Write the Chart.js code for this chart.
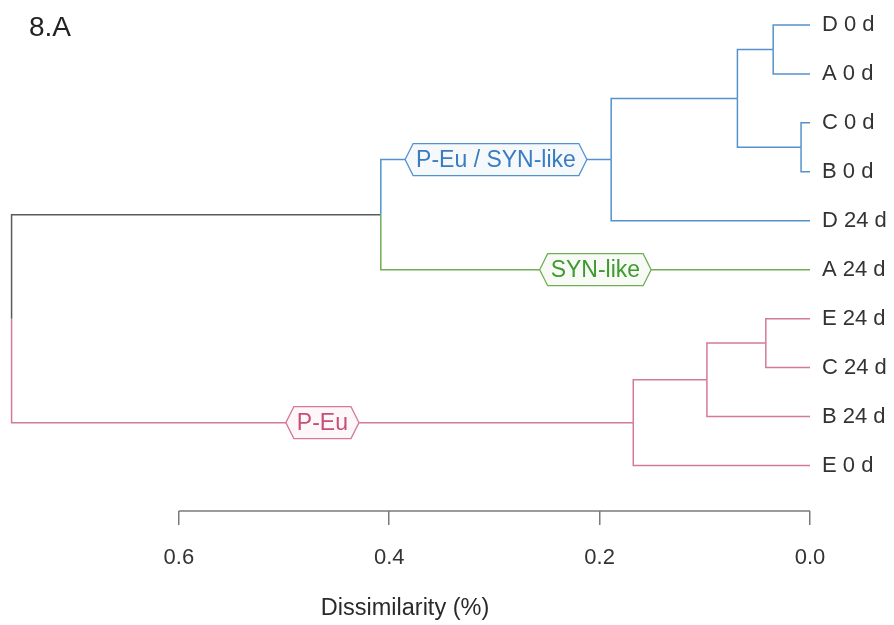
<!DOCTYPE html>
<html>
<head>
<meta charset="utf-8">
<script src="https://cdn.jsdelivr.net/npm/chart.js@4.4.1/dist/chart.umd.min.js"></script>
<style>
  html, body { margin: 0; padding: 0; background: #fff; }
  #wrap { width: 894px; height: 625px; position: relative; }
</style>
</head>
<body>
<div id="wrap"><canvas id="dendro"></canvas></div>
<script>
// leaves, top to bottom
const leafLabels = ['D 0 d', 'A 0 d', 'C 0 d', 'B 0 d', 'D 24 d', 'A 24 d', 'E 24 d', 'C 24 d', 'B 24 d', 'E 0 d'];
const leafGroups = ['blue', 'blue', 'blue', 'blue', 'blue', 'green', 'pink', 'pink', 'pink', 'pink'];

// hclust-style merge table: negative = leaf (1-based), positive = earlier merge
const mergeLeft = [-3, -1, -7, 2, 3, 5, 4, 7, 8];
const mergeRight = [-4, -2, -8, 1, -9, -10, -5, -6, 6];
const mergeHeight = [0.0085, 0.035, 0.042, 0.069, 0.098, 0.168, 0.189, 0.408, 0.759];

const xTicks = [0.6, 0.4, 0.2, 0.0];

// branch labels: node the branch leads to, and its text
const branchTargets = [7, -6, 6];
const branchTexts = ['P-Eu / SYN-like', 'SYN-like', 'P-Eu'];

const lineColors = { blue: '#5592cc', green: '#6fae55', pink: '#d57a95', mixed: '#5a5a5a' };
const textColors = { blue: '#3a7cc0', green: '#3f9a30', pink: '#c74f75' };
const FONT = 'Liberation Sans, Arial, sans-serif';

const merged = [];
function nodeInfo(id) {
  if (id < 0) return { y: -id, h: 0, group: leafGroups[-id - 1] };
  return merged[id - 1];
}
mergeLeft.forEach((l, i) => {
  const a = nodeInfo(l);
  const b = nodeInfo(mergeRight[i]);
  merged.push({ y: (a.y + b.y) / 2, h: mergeHeight[i], group: a.group === b.group ? a.group : 'mixed' });
});

// one polyline per child branch: parent vertical half + horizontal run
const edges = [];
mergeLeft.forEach((l, i) => {
  const parent = merged[i];
  [l, mergeRight[i]].forEach((c) => {
    const child = nodeInfo(c);
    edges.push({
      id: c,
      parent,
      child,
      pts: [
        { x: parent.h, y: parent.y },
        { x: parent.h, y: child.y },
        { x: child.h, y: child.y },
      ],
    });
  });
});

const datasets = edges.map((e) => ({
  data: e.pts,
  showLine: true,
  borderColor: lineColors[e.child.group],
  borderWidth: 1.5,
  pointRadius: 0,
  fill: false,
  tension: 0,
}));

function hexLabel(ctx, cx, cy, text, group) {
  ctx.save();
  ctx.font = '23px ' + FONT;
  const w = ctx.measureText(text).width + 22;
  const h = 32;
  const tip = 8;
  const x0 = cx - w / 2, x1 = cx + w / 2;
  ctx.beginPath();
  ctx.moveTo(x0, cy);
  ctx.lineTo(x0 + tip, cy - h / 2);
  ctx.lineTo(x1 - tip, cy - h / 2);
  ctx.lineTo(x1, cy);
  ctx.lineTo(x1 - tip, cy + h / 2);
  ctx.lineTo(x0 + tip, cy + h / 2);
  ctx.closePath();
  ctx.fillStyle = '#ffffff';
  ctx.fill();
  ctx.globalAlpha = 0.06;
  ctx.fillStyle = lineColors[group];
  ctx.fill();
  ctx.globalAlpha = 1;
  ctx.strokeStyle = lineColors[group];
  ctx.lineWidth = 1.3;
  ctx.stroke();
  ctx.fillStyle = textColors[group];
  ctx.textAlign = 'center';
  ctx.textBaseline = 'middle';
  ctx.fillText(text, cx, cy + 1);
  ctx.restore();
}

const extras = {
  id: 'extras',
  afterDatasetsDraw(chart) {
    const { ctx, scales: { x, y } } = chart;
    // R-style axis line spanning only the ticks
    ctx.save();
    ctx.strokeStyle = '#7a7a7a';
    ctx.lineWidth = 1.5;
    ctx.beginPath();
    ctx.moveTo(x.getPixelForValue(xTicks[0]), x.top);
    ctx.lineTo(x.getPixelForValue(xTicks[xTicks.length - 1]), x.top);
    ctx.stroke();
    ctx.restore();

    branchTargets.forEach((t, i) => {
      const e = edges.find((d) => d.id === t);
      const mid = (e.parent.h + e.child.h) / 2;
      hexLabel(ctx, x.getPixelForValue(mid), y.getPixelForValue(e.child.y), branchTexts[i], e.child.group);
    });

    ctx.save();
    ctx.fillStyle = '#222';
    ctx.font = '28px ' + FONT;
    ctx.textBaseline = 'middle';
    ctx.fillText('8.A', 29, 28);
    ctx.restore();
  },
};

new Chart(document.getElementById('dendro'), {
  type: 'scatter',
  data: { datasets },
  plugins: [extras],
  options: {
    responsive: true,
    maintainAspectRatio: false,
    animation: false,
    events: [],
    layout: { padding: 0 },
    plugins: {
      legend: { display: false },
      tooltip: { enabled: false },
    },
    scales: {
      x: {
        type: 'linear',
        reverse: true,
        min: 0,
        max: 0.77,
        afterBuildTicks: (scale) => { scale.ticks = xTicks.map((v) => ({ value: v })); },
        afterFit: (scale) => { scale.height = 114; scale.paddingLeft = 0; scale.paddingRight = 0; },
        border: { display: false },
        grid: { drawOnChartArea: false, drawTicks: true, tickLength: 14, color: '#7a7a7a', lineWidth: 1.5 },
        ticks: {
          color: '#333',
          font: { family: FONT, size: 22 },
          padding: 20,
          maxRotation: 0,
          callback: (v) => Number(v).toFixed(1),
        },
        title: {
          display: true,
          text: 'Dissimilarity (%)',
          color: '#2a2a2a',
          font: { family: FONT, size: 23.5 },
          padding: { top: 0, bottom: 2 },
        },
      },
      y: {
        type: 'linear',
        position: 'right',
        reverse: true,
        min: 0.49,
        max: 10.93,
        afterBuildTicks: (scale) => { scale.ticks = leafLabels.map((_, i) => ({ value: i + 1 })); },
        afterFit: (scale) => { scale.width = 84; scale.paddingTop = 0; scale.paddingBottom = 0; },
        border: { display: false },
        grid: { display: false, drawTicks: false },
        ticks: {
          color: '#333',
          font: { family: FONT, size: 22 },
          padding: 12,
          callback: (v) => leafLabels[Math.round(v) - 1],
        },
      },
    },
  },
});
</script>
</body>
</html>
